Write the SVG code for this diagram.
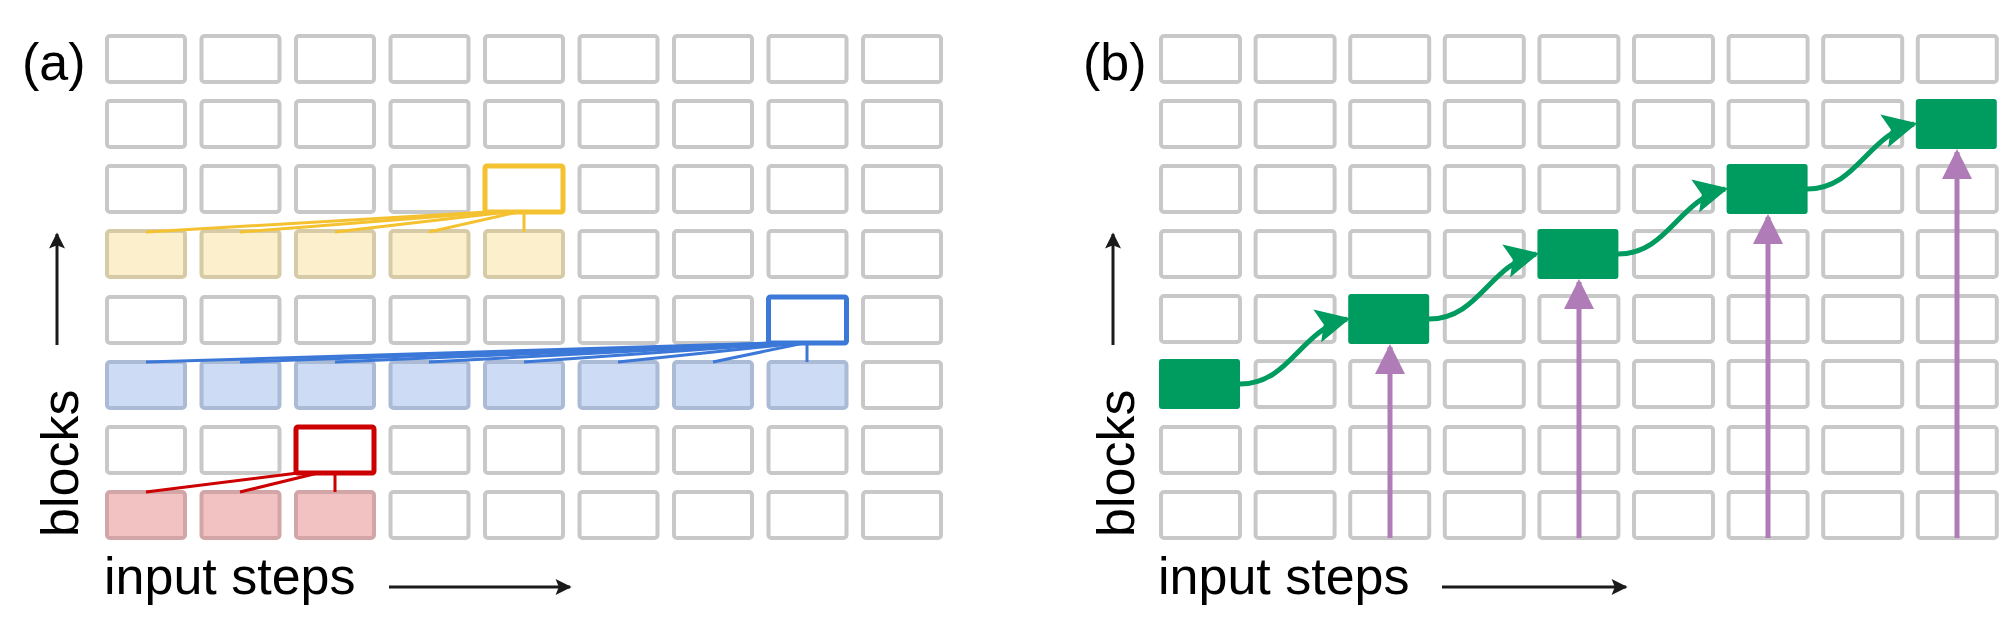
<svg xmlns="http://www.w3.org/2000/svg" width="2000" height="629" viewBox="0 0 2000 629">
<defs>
<style>
.c{fill:#fff;stroke:#c8c8c8;stroke-width:4}
.yf{fill:#fbefcc;stroke:#d6cba6;stroke-width:4}
.bf{fill:#cddcf4;stroke:#abbad5;stroke-width:4}
.rf{fill:#f2c2c2;stroke:#d2a6a6;stroke-width:4}
.yo{fill:#fff;stroke:#f4c231;stroke-width:5}
.bo{fill:#fff;stroke:#3b78d8;stroke-width:5}
.ro{fill:#fff;stroke:#cc0000;stroke-width:5}
.g{fill:#009b5e}
.t{font-family:"Liberation Sans",Arial,sans-serif;font-size:52px;fill:#000}
.yl{stroke:#f4c231;stroke-width:3;fill:none}
.bl{stroke:#3b78d8;stroke-width:3;fill:none}
.rl{stroke:#cc0000;stroke-width:3;fill:none}
.ga{stroke:#009b5e;stroke-width:5;fill:none;marker-end:url(#gh)}
.pa{stroke:#b07cb8;stroke-width:5;fill:none;marker-end:url(#ph)}
.ka{stroke:#1a1a1a;stroke-width:3;fill:none;marker-end:url(#kh)}
</style>
<marker id="gh" viewBox="0 0 10 10" refX="9" refY="5" markerUnits="userSpaceOnUse" markerWidth="40" markerHeight="34" orient="auto"><path d="M0,0L10,5L0,10L2,5z" fill="#009b5e"/></marker>
<marker id="ph" viewBox="0 0 10 10" refX="9" refY="5" markerUnits="userSpaceOnUse" markerWidth="40" markerHeight="30" orient="auto"><path d="M0,0L10,5L0,10z" fill="#b07cb8"/></marker>
<marker id="kh" viewBox="0 0 10 10" refX="9" refY="5" markerUnits="userSpaceOnUse" markerWidth="22" markerHeight="16" orient="auto"><path d="M0,0L10,5L0,10L2,5z" fill="#1a1a1a"/></marker>
<g id="cellA"><rect class="c" x="0" y="0" width="78" height="46" rx="3"/></g>
<g id="cellB"><rect class="c" x="0" y="0" width="79" height="46" rx="3"/></g>
</defs>
<rect width="2000" height="629" fill="#fff"/>

<g id="gridA">
<g id="a-r0"><use href="#cellA" x="107" y="36"/><use href="#cellA" x="201.5" y="36"/><use href="#cellA" x="296" y="36"/><use href="#cellA" x="390.5" y="36"/><use href="#cellA" x="485" y="36"/><use href="#cellA" x="579.5" y="36"/><use href="#cellA" x="674" y="36"/><use href="#cellA" x="768.5" y="36"/><use href="#cellA" x="863" y="36"/></g>
<g id="a-r1"><use href="#cellA" x="107" y="101"/><use href="#cellA" x="201.5" y="101"/><use href="#cellA" x="296" y="101"/><use href="#cellA" x="390.5" y="101"/><use href="#cellA" x="485" y="101"/><use href="#cellA" x="579.5" y="101"/><use href="#cellA" x="674" y="101"/><use href="#cellA" x="768.5" y="101"/><use href="#cellA" x="863" y="101"/></g>
<g id="a-r2"><use href="#cellA" x="107" y="166"/><use href="#cellA" x="201.5" y="166"/><use href="#cellA" x="296" y="166"/><use href="#cellA" x="390.5" y="166"/><use href="#cellA" x="579.5" y="166"/><use href="#cellA" x="674" y="166"/><use href="#cellA" x="768.5" y="166"/><use href="#cellA" x="863" y="166"/></g>
<g id="a-r3"><use href="#cellA" x="579.5" y="231"/><use href="#cellA" x="674" y="231"/><use href="#cellA" x="768.5" y="231"/><use href="#cellA" x="863" y="231"/></g>
<g id="a-r4"><use href="#cellA" x="107" y="297"/><use href="#cellA" x="201.5" y="297"/><use href="#cellA" x="296" y="297"/><use href="#cellA" x="390.5" y="297"/><use href="#cellA" x="485" y="297"/><use href="#cellA" x="579.5" y="297"/><use href="#cellA" x="674" y="297"/><use href="#cellA" x="863" y="297"/></g>
<g id="a-r5"><use href="#cellA" x="863" y="362"/></g>
<g id="a-r6"><use href="#cellA" x="107" y="427"/><use href="#cellA" x="201.5" y="427"/><use href="#cellA" x="390.5" y="427"/><use href="#cellA" x="485" y="427"/><use href="#cellA" x="579.5" y="427"/><use href="#cellA" x="674" y="427"/><use href="#cellA" x="768.5" y="427"/><use href="#cellA" x="863" y="427"/></g>
<g id="a-r7"><use href="#cellA" x="390.5" y="492"/><use href="#cellA" x="485" y="492"/><use href="#cellA" x="579.5" y="492"/><use href="#cellA" x="674" y="492"/><use href="#cellA" x="768.5" y="492"/><use href="#cellA" x="863" y="492"/></g>
</g>

<g id="yellow-inputs"><rect class="yf" x="107" y="231" width="78" height="46" rx="3"/><rect class="yf" x="201.5" y="231" width="78" height="46" rx="3"/><rect class="yf" x="296" y="231" width="78" height="46" rx="3"/><rect class="yf" x="390.5" y="231" width="78" height="46" rx="3"/><rect class="yf" x="485" y="231" width="78" height="46" rx="3"/></g>
<g id="yellow-node"><rect class="yo" x="485" y="166" width="78" height="46" rx="2"/></g>
<g id="blue-inputs"><rect class="bf" x="107" y="362" width="78" height="46" rx="3"/><rect class="bf" x="201.5" y="362" width="78" height="46" rx="3"/><rect class="bf" x="296" y="362" width="78" height="46" rx="3"/><rect class="bf" x="390.5" y="362" width="78" height="46" rx="3"/><rect class="bf" x="485" y="362" width="78" height="46" rx="3"/><rect class="bf" x="579.5" y="362" width="78" height="46" rx="3"/><rect class="bf" x="674" y="362" width="78" height="46" rx="3"/><rect class="bf" x="768.5" y="362" width="78" height="46" rx="3"/></g>
<g id="blue-node"><rect class="bo" x="768.5" y="297" width="78" height="46" rx="2"/></g>
<g id="red-inputs"><rect class="rf" x="107" y="492" width="78" height="46" rx="3"/><rect class="rf" x="201.5" y="492" width="78" height="46" rx="3"/><rect class="rf" x="296" y="492" width="78" height="46" rx="3"/></g>
<g id="red-node"><rect class="ro" x="296" y="427" width="78" height="46" rx="2"/></g>

<g id="gridB">
<g id="b-r0"><use href="#cellB" x="1161" y="36"/><use href="#cellB" x="1255.6" y="36"/><use href="#cellB" x="1350.2" y="36"/><use href="#cellB" x="1444.8" y="36"/><use href="#cellB" x="1539.4" y="36"/><use href="#cellB" x="1634" y="36"/><use href="#cellB" x="1728.6" y="36"/><use href="#cellB" x="1823.2" y="36"/><use href="#cellB" x="1917.8" y="36"/></g>
<g id="b-r1"><use href="#cellB" x="1161" y="101"/><use href="#cellB" x="1255.6" y="101"/><use href="#cellB" x="1350.2" y="101"/><use href="#cellB" x="1444.8" y="101"/><use href="#cellB" x="1539.4" y="101"/><use href="#cellB" x="1634" y="101"/><use href="#cellB" x="1728.6" y="101"/><use href="#cellB" x="1823.2" y="101"/></g>
<g id="b-r2"><use href="#cellB" x="1161" y="166"/><use href="#cellB" x="1255.6" y="166"/><use href="#cellB" x="1350.2" y="166"/><use href="#cellB" x="1444.8" y="166"/><use href="#cellB" x="1539.4" y="166"/><use href="#cellB" x="1634" y="166"/><use href="#cellB" x="1823.2" y="166"/><use href="#cellB" x="1917.8" y="166"/></g>
<g id="b-r3"><use href="#cellB" x="1161" y="231"/><use href="#cellB" x="1255.6" y="231"/><use href="#cellB" x="1350.2" y="231"/><use href="#cellB" x="1444.8" y="231"/><use href="#cellB" x="1634" y="231"/><use href="#cellB" x="1728.6" y="231"/><use href="#cellB" x="1823.2" y="231"/><use href="#cellB" x="1917.8" y="231"/></g>
<g id="b-r4"><use href="#cellB" x="1161" y="296"/><use href="#cellB" x="1255.6" y="296"/><use href="#cellB" x="1444.8" y="296"/><use href="#cellB" x="1539.4" y="296"/><use href="#cellB" x="1634" y="296"/><use href="#cellB" x="1728.6" y="296"/><use href="#cellB" x="1823.2" y="296"/><use href="#cellB" x="1917.8" y="296"/></g>
<g id="b-r5"><use href="#cellB" x="1255.6" y="361"/><use href="#cellB" x="1350.2" y="361"/><use href="#cellB" x="1444.8" y="361"/><use href="#cellB" x="1539.4" y="361"/><use href="#cellB" x="1634" y="361"/><use href="#cellB" x="1728.6" y="361"/><use href="#cellB" x="1823.2" y="361"/><use href="#cellB" x="1917.8" y="361"/></g>
<g id="b-r6"><use href="#cellB" x="1161" y="427"/><use href="#cellB" x="1255.6" y="427"/><use href="#cellB" x="1350.2" y="427"/><use href="#cellB" x="1444.8" y="427"/><use href="#cellB" x="1539.4" y="427"/><use href="#cellB" x="1634" y="427"/><use href="#cellB" x="1728.6" y="427"/><use href="#cellB" x="1823.2" y="427"/><use href="#cellB" x="1917.8" y="427"/></g>
<g id="b-r7"><use href="#cellB" x="1161" y="492"/><use href="#cellB" x="1255.6" y="492"/><use href="#cellB" x="1350.2" y="492"/><use href="#cellB" x="1444.8" y="492"/><use href="#cellB" x="1539.4" y="492"/><use href="#cellB" x="1634" y="492"/><use href="#cellB" x="1728.6" y="492"/><use href="#cellB" x="1823.2" y="492"/><use href="#cellB" x="1917.8" y="492"/></g>
</g>

<g id="green-nodes">
<rect class="g" x="1159" y="359" width="81" height="50" rx="3"/>
<rect class="g" x="1348.2" y="294" width="81" height="50" rx="3"/>
<rect class="g" x="1537.4" y="229" width="81" height="50" rx="3"/>
<rect class="g" x="1726.6" y="164" width="81" height="50" rx="3"/>
<rect class="g" x="1915.8" y="99" width="81" height="50" rx="3"/>
</g>

<g id="connectors">
<line class="yl" x1="487" y1="212" x2="146" y2="232"/>
<line class="yl" x1="496" y1="212" x2="240" y2="232"/>
<line class="yl" x1="507" y1="212" x2="335" y2="232"/>
<line class="yl" x1="518" y1="212" x2="429" y2="232"/>
<line class="yl" x1="524" y1="212" x2="524" y2="232"/>
<line class="bl" x1="770" y1="343" x2="146" y2="362"/>
<line class="bl" x1="776" y1="343" x2="240" y2="362"/>
<line class="bl" x1="782" y1="343" x2="335" y2="362"/>
<line class="bl" x1="788" y1="343" x2="429" y2="362"/>
<line class="bl" x1="794" y1="343" x2="524" y2="362"/>
<line class="bl" x1="800" y1="343" x2="618" y2="362"/>
<line class="bl" x1="804" y1="343" x2="713" y2="362"/>
<line class="bl" x1="807" y1="343" x2="807" y2="362"/>
<line class="rl" x1="298" y1="473" x2="146" y2="492"/>
<line class="rl" x1="318" y1="473" x2="240" y2="492"/>
<line class="rl" x1="335" y1="473" x2="335" y2="492"/>
<path class="ga" d="M1240,384 C1290,384 1300,330 1347,319"/>
<path class="ga" d="M1429,319 C1479,319 1489,265 1536,254"/>
<path class="ga" d="M1618,254 C1668,254 1678,200 1725,189"/>
<path class="ga" d="M1807,189 C1857,189 1867,135 1914,124"/>
<line class="pa" x1="1390" y1="538" x2="1390" y2="347"/>
<line class="pa" x1="1579" y1="538" x2="1579" y2="282"/>
<line class="pa" x1="1768" y1="538" x2="1768" y2="217"/>
<line class="pa" x1="1957" y1="538" x2="1957" y2="152"/>
<line class="ka" x1="57" y1="345" x2="57" y2="234"/>
<line class="ka" x1="389" y1="587" x2="570" y2="587"/>
<line class="ka" x1="1113" y1="345" x2="1113" y2="234"/>
<line class="ka" x1="1442" y1="587" x2="1626" y2="587"/>
</g>

<g id="labels">
<text class="t" x="22" y="80">(a)</text>
<text class="t" x="1083" y="80">(b)</text>
<text class="t" x="104" y="594">input steps</text>
<text class="t" x="1158" y="594">input steps</text>
<text class="t" transform="translate(78,537) rotate(-90)">blocks</text>
<text class="t" transform="translate(1134,537) rotate(-90)">blocks</text>
</g>
</svg>
